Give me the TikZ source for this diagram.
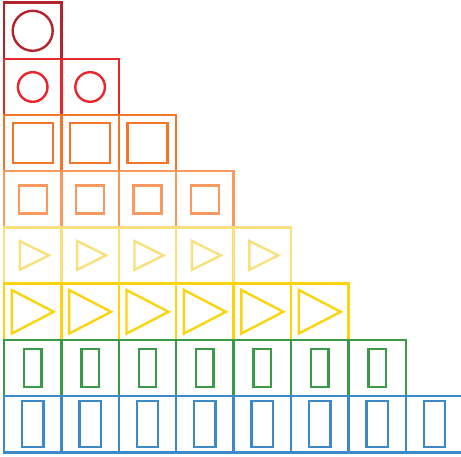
\documentclass[tikz,border=0pt]{standalone}
\usepackage{xcolor}
\definecolor{rowone}{HTML}{B3232B}
\definecolor{rowtwo}{HTML}{E8262B}
\definecolor{rowthree}{HTML}{F2762A}
\definecolor{rowfour}{HTML}{F8995F}
\definecolor{rowfive}{HTML}{F8E07C}
\definecolor{rowsix}{HTML}{FCD30F}
\definecolor{rowseven}{HTML}{3A9A47}
\definecolor{roweight}{HTML}{3E8AC9}

\begin{document}
\begin{tikzpicture}[x=1pt,y=-1pt,line width=2.4pt]
\useasboundingbox (0,0) rectangle (461,457);
\clip (0,0) rectangle (461,457);
\def\cw{57.4}
\def\ch{56.2}
% row 1: big circles
\foreach \i in {0} {\draw[rowone] (4+\cw*\i,2.7) rectangle +(\cw,\ch);
 \draw[rowone] (4+\cw*\i+28.7,30.8) circle (20);}
% row 2: small circles
\foreach \i in {0,1} {\draw[rowtwo] (4+\cw*\i,2.7+\ch) rectangle +(\cw,\ch);
 \draw[rowtwo] (4+\cw*\i+28.7,87) circle (14.8);}
% row 3: big squares
\foreach \i in {0,...,2} {\draw[rowthree] (4+\cw*\i,2.7+2*\ch) rectangle +(\cw,\ch);
 \draw[rowthree] (4+\cw*\i+8.7,123.2) rectangle +(40,40);}
% row 4: small squares
\foreach \i in {0,...,3} {\draw[rowfour] (4+\cw*\i,2.7+3*\ch) rectangle +(\cw,\ch);
 \draw[rowfour] (4+\cw*\i+14.7,185.4) rectangle +(28,28);}
% row 5: small triangles
\foreach \i in {0,...,4} {\draw[rowfive] (4+\cw*\i,2.7+4*\ch) rectangle +(\cw,\ch);
 \draw[rowfive] (4+\cw*\i+15.7,241) -- +(29,14.4) -- +(0,28.8) -- cycle;}
% row 6: big triangles
\foreach \i in {0,...,5} {\draw[rowsix] (4+\cw*\i,2.7+5*\ch) rectangle +(\cw,\ch);
 \draw[rowsix] (4+\cw*\i+7.7,290) -- +(42,21.8) -- +(0,43.6) -- cycle;}
% row 7: narrow bars
\foreach \i in {0,...,6} {\draw[rowseven] (4+\cw*\i,2.7+6*\ch) rectangle +(\cw,\ch);
 \draw[rowseven] (4+\cw*\i+20,349.3) rectangle +(17.4,37.4);}
% row 8: tall bars
\foreach \i in {0,...,7} {\draw[roweight] (4+\cw*\i,2.7+7*\ch) rectangle +(\cw,\ch);
 \draw[roweight] (4+\cw*\i+18,401) rectangle +(21.3,45.7);}
\end{tikzpicture}
\end{document}
